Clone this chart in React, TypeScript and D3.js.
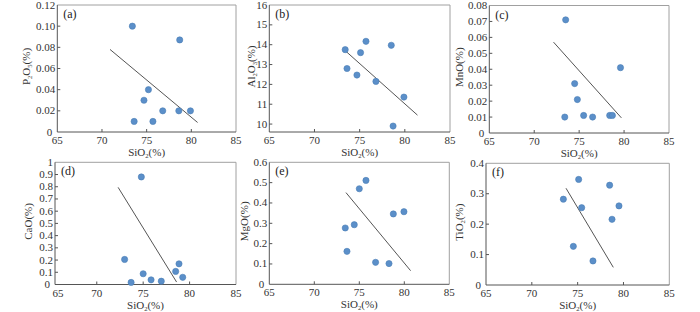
import React from "react";
import * as d3 from "d3";

// ---- Data ----
const xTicks = [65, 70, 75, 80, 85];

const sio2A = [73.4, 78.7, 75.2, 74.7, 76.8, 78.6, 79.9, 73.6, 75.7];
const p2o5 = [0.1, 0.087, 0.04, 0.03, 0.02, 0.02, 0.02, 0.01, 0.01];
const lineA = [[70.9, 0.078], [80.7, 0.009]];
const ticksA = [0, 0.02, 0.04, 0.06, 0.08, 0.1, 0.12];

const sio2B = [73.4, 73.6, 74.7, 75.1, 75.7, 78.5, 76.8, 79.9, 78.7];
const al2o3 = [13.75, 12.8, 12.47, 13.6, 14.17, 13.97, 12.15, 11.36, 9.9];
const lineB = [[73.2, 13.78], [81.4, 10.45]];
const ticksB = [10, 11, 12, 13, 14, 15, 16];

const sio2C = [73.5, 79.6, 74.5, 74.8, 73.4, 75.5, 76.5, 78.4, 78.7];
const mno = [0.071, 0.041, 0.031, 0.021, 0.01, 0.011, 0.01, 0.011, 0.011];
const lineC = [[72.15, 0.057], [79.7, 0.0095]];
const ticksC = [0, 0.01, 0.02, 0.03, 0.04, 0.05, 0.06, 0.07, 0.08];

const sio2D = [74.8, 73.0, 73.7, 75.0, 75.85, 76.95, 78.5, 78.86, 79.26];
const cao = [0.88, 0.205, 0.017, 0.088, 0.038, 0.027, 0.107, 0.169, 0.059];
const lineD = [[72.3, 0.795], [78.6, 0.02]];
const ticksD = [0, 0.1, 0.2, 0.3, 0.4, 0.5, 0.6, 0.7, 0.8, 0.9, 1];

const sio2E = [75.74, 75.0, 73.44, 74.44, 73.63, 78.78, 79.96, 76.81, 78.3];
const mgo = [0.511, 0.47, 0.277, 0.293, 0.162, 0.346, 0.357, 0.108, 0.102];
const lineE = [[73.52, 0.451], [80.7, 0.067]];
const ticksE = [0, 0.1, 0.2, 0.3, 0.4, 0.5, 0.6];

const sio2F = [75.11, 78.49, 73.44, 75.44, 79.51, 78.75, 74.53, 76.67];
const tio2 = [0.347, 0.328, 0.282, 0.254, 0.26, 0.216, 0.127, 0.079];
const lineF = [[73.73, 0.318], [78.89, 0.058]];
const ticksF = [0, 0.1, 0.2, 0.3, 0.4];

const FONT = "'Liberation Serif', 'Times New Roman', serif";
const TXT = "#333";

type Part = { t: string; sub?: boolean };

function Label({ parts, x, y, rotate, anchor = "middle", size = 11 }: any) {
  return (
    <text
      x={x}
      y={y}
      transform={rotate ? `rotate(-90 ${x} ${y})` : undefined}
      textAnchor={anchor}
      fontFamily={FONT}
      fontSize={size}
      fill={TXT}
    >
      {parts.map((p: Part, i: number) =>
        p.sub ? (
          <tspan key={i} fontSize={size * 0.6} dy={2}>
            {p.t}
          </tspan>
        ) : (
          <tspan key={i} dy={i > 0 && parts[i - 1].sub ? -2 : 0}>
            {p.t}
          </tspan>
        )
      )}
    </text>
  );
}

const xTitle: Part[] = [{ t: "SiO" }, { t: "2", sub: true }, { t: "(%)" }];

function Panel({ box, xDom, yDom, xs, ys, line, yTicks, fmt, yTitle, letter, titleDx }: any) {
  const [l, r, t, b] = box;
  const x = d3.scaleLinear().domain(xDom).range([l, r]);
  const y = d3.scaleLinear().domain(yDom).range([b, t]);
  const lineGen = d3
    .line<number[]>()
    .x((d) => x(d[0]))
    .y((d) => y(d[1]));
  return (
    <g>
      <line x1={l} x2={r} y1={t} y2={t} stroke="#a0a0a0" strokeWidth={1} />
      <line x1={r} x2={r} y1={t} y2={b} stroke="#a0a0a0" strokeWidth={1} />
      <line x1={l} x2={r} y1={b} y2={b} stroke="#555" strokeWidth={1} />
      <line x1={l} x2={l} y1={t} y2={b} stroke="#555" strokeWidth={1} />
      {xTicks.map((v) => {
        const px = Math.max(x(v), l);
        return (
          <g key={v}>
            {v > xDom[0] && v < xDom[1] && (
              <line x1={px} x2={px} y1={b} y2={b - 3} stroke="#555" />
            )}
            <text x={px + (x(v) < l ? 3 : 0)} y={b + 12} textAnchor="middle" fontFamily={FONT} fontSize={11} fill={TXT}>
              {v}
            </text>
          </g>
        );
      })}
      {yTicks.map((v: number) => {
        const isMin = v === yDom[0] && v === 0;
        return (
          <g key={v}>
            {v > yDom[0] && v < yDom[1] && (
              <line x1={l} x2={l + 3} y1={y(v)} y2={y(v)} stroke="#555" />
            )}
            <text x={l - (isMin ? 5 : 2)} y={y(v) + 3.5} textAnchor="end" fontFamily={FONT} fontSize={11} fill={TXT}>
              {fmt(v)}
            </text>
          </g>
        );
      })}
      <path d={lineGen(line) || ""} stroke="#555" strokeWidth={1} fill="none" />
      {xs.map((v: number, i: number) => (
        <circle key={i} cx={x(v)} cy={y(ys[i])} r={3.1} fill="#5b8fc9" stroke="#4a7db5" strokeWidth={0.6} />
      ))}
      <text x={l + 6} y={t + 13} fontFamily={FONT} fontSize={12} fill="#222">
        {letter}
      </text>
      <Label parts={xTitle} x={(l + r) / 2} y={b + 24} />
      <Label parts={yTitle} x={l - titleDx} y={(t + b) / 2 - 2} rotate />
    </g>
  );
}

const f2 = (v: number) => (v === 0 ? "0" : v.toFixed(2));
const f1 = (v: number) => (v === 0 ? "0" : v === 1 ? "1" : v.toFixed(1));
const f0 = (v: number) => String(v);

export default function App() {
  return (
    <svg width={700} height={312} style={{ position: "absolute", left: 0, top: 0, background: "#fff" }}>
      <Panel box={[57.3, 236, 5, 132]} xDom={[65, 85]} yDom={[0, 0.12]} xs={sio2A} ys={p2o5} line={lineA} yTicks={ticksA} fmt={f2}
        yTitle={[{ t: "P" }, { t: "2", sub: true }, { t: "O" }, { t: "5", sub: true }, { t: "(%)" }]} letter="(a)" titleDx={27} />
      <Panel box={[269.3, 450, 5, 132]} xDom={[65, 85]} yDom={[9.6, 16]} xs={sio2B} ys={al2o3} line={lineB} yTicks={ticksB} fmt={f0}
        yTitle={[{ t: "Al" }, { t: "2", sub: true }, { t: "O" }, { t: "3", sub: true }, { t: "(%)" }]} letter="(b)" titleDx={14.5} />
      <Panel box={[489.3, 669, 5.5, 133]} xDom={[65, 85]} yDom={[0, 0.08]} xs={sio2C} ys={mno} line={lineC} yTicks={ticksC} fmt={f2}
        yTitle={[{ t: "MnO(%)" }]} letter="(c)" titleDx={26} />
      <Panel box={[55, 236, 162.3, 284.5]} xDom={[65.5, 85]} yDom={[0, 1]} xs={sio2D} ys={cao} line={lineD} yTicks={ticksD} fmt={f1}
        yTitle={[{ t: "CaO(%)" }]} letter="(d)" titleDx={23} />
      <Panel box={[269.3, 449.3, 162.3, 284.3]} xDom={[65, 85]} yDom={[0, 0.6]} xs={sio2E} ys={mgo} line={lineE} yTicks={ticksE} fmt={f1}
        yTitle={[{ t: "MgO(%)" }]} letter="(e)" titleDx={21} />
      <Panel box={[486, 669.3, 163.3, 285]} xDom={[65, 85]} yDom={[0, 0.4]} xs={sio2F} ys={tio2} line={lineF} yTicks={ticksF} fmt={f1}
        yTitle={[{ t: "TiO" }, { t: "2", sub: true }, { t: "(%)" }]} letter="(f)" titleDx={23} />
    </svg>
  );
}
